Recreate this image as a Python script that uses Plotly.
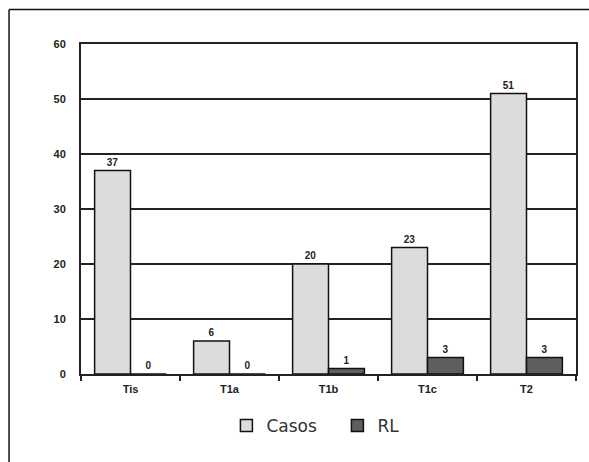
import plotly.graph_objects as go

categories = ["Tis", "T1a", "T1b", "T1c", "T2"]
casos = [37, 6, 20, 23, 51]
rl = [0, 0, 1, 3, 3]
y_ticks = [0, 10, 20, 30, 40, 50, 60]

W, H = 589, 462
PL, PR, PT, PB = 81, 578, 44, 374          # plot-area edges in pixels
L, R, T, B = PL, W - PR, PT, H - PB
pw, ph = W - L - R, H - T - B

lab_font = dict(family="Liberation Sans", size=10, color="#222222", weight="bold")

fig = go.Figure()
fig.add_trace(go.Bar(
    x=categories, y=casos, name="Casos",
    marker=dict(color="#dcdcdc", line=dict(color="#111111", width=1.5)),
    text=[str(v) for v in casos], textposition="outside",
    textfont=lab_font, cliponaxis=False,
))
fig.add_trace(go.Bar(
    x=categories, y=rl, name="RL",
    marker=dict(color="#5e5e5e", line=dict(color="#111111", width=1.5)),
    text=[str(v) for v in rl], textposition="outside",
    textfont=lab_font, cliponaxis=False,
))

def px_x(x):
    return (x - PL) / pw

def px_y(y):
    return (PB - y) / ph

fig.update_layout(
    width=W, height=H,
    margin=dict(l=L, r=R, t=T, b=B, pad=0),
    paper_bgcolor="white", plot_bgcolor="white",
    barmode="group", bargap=0.275, bargroupgap=0,
    font=dict(family="Liberation Sans", color="#222222"),
    showlegend=True,
    legend=dict(
        orientation="h", x=px_x(227), xanchor="left", y=px_y(426), yanchor="middle",
        font=dict(family="DejaVu Sans", size=17, color="#333333"),
        itemwidth=30, entrywidth=66, entrywidthmode="pixels",
        traceorder="normal", bgcolor="rgba(0,0,0,0)",
    ),
    xaxis=dict(
        type="category", showline=True, linecolor="#222222", linewidth=2,
        mirror=True, tickson="boundaries", ticks="outside", ticklen=5,
        tickcolor="#222222", tickwidth=1.5, showgrid=False,
        tickfont=dict(family="Liberation Sans", size=11, color="#222222", weight="bold"),
        ticklabelstandoff=4,
    ),
    yaxis=dict(
        range=[0, 60], tickvals=y_ticks, showline=True, linecolor="#222222",
        linewidth=2, mirror=True, showgrid=True, gridcolor="#222222", gridwidth=1.5,
        zeroline=False, ticks="", ticklabelstandoff=11,
        tickfont=dict(family="Liberation Sans", size=11, color="#222222", weight="bold"),
    ),
    shapes=[
        # outer frame
        dict(type="line", xref="paper", yref="paper", x0=px_x(8.75), x1=px_x(600),
             y0=px_y(9.5), y1=px_y(9.5), line=dict(color="#111111", width=1.5)),
        dict(type="line", xref="paper", yref="paper", x0=px_x(8.75), x1=px_x(8.75),
             y0=px_y(9.5), y1=px_y(480), line=dict(color="#111111", width=1.5)),
    ],
)

fig.write_html(
    "out.html",
    config={"displayModeBar": False},
    post_script="document.body.style.margin='0';document.body.style.overflow='hidden';",
)
